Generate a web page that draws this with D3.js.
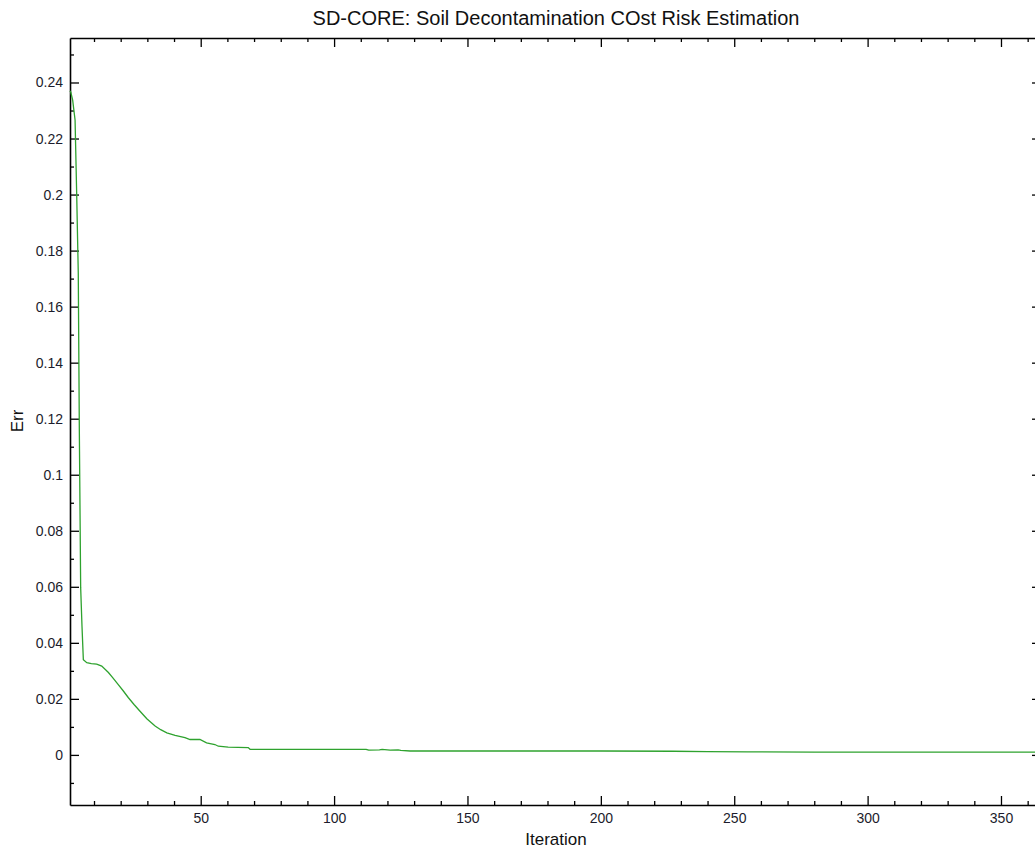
<!DOCTYPE html>
<html>
<head>
<meta charset="utf-8">
<script src="https://cdn.jsdelivr.net/npm/d3@7"></script>
<style>
    body { margin: 0; background: #fff; overflow: hidden; }
    svg { display: block; font-family: "Liberation Sans", Arial, sans-serif; }
</style>
</head>
<body>
<svg id="chart"></svg>
<script>
// values (iteration, error)
const iterations = [1, 1.3, 2, 2.9, 3.5, 4.1, 4.5, 5, 5.5, 6, 7.3, 9, 11, 12.9, 15.4, 17, 19.1, 21, 22.9, 25, 27.5,
    29.8, 31.5, 32.9, 35, 37.3, 40.4, 44.1, 46, 49.7, 52.2, 55.3, 56.6, 60.3, 64, 67.8, 68.5, 80, 95, 112,
    113, 117, 118, 121, 124, 125, 128.5, 150, 180, 200, 227, 240, 255, 280, 310, 340, 365];
const errors = [0.2370, 0.2365, 0.2337, 0.2266, 0.2005, 0.1720, 0.1157, 0.0597, 0.0458, 0.0340, 0.0329, 0.0326, 0.0324, 0.0317, 0.0294, 0.0276, 0.0251, 0.0228, 0.0204, 0.0180, 0.0153,
    0.0129, 0.0115, 0.0103, 0.0090, 0.0079, 0.0070, 0.0062, 0.0055, 0.0055, 0.0043, 0.0037, 0.0031, 0.0028, 0.0027, 0.0026, 0.0020, 0.0020, 0.0020, 0.0020,
    0.0017, 0.0018, 0.0020, 0.0017, 0.0018, 0.0016, 0.0014, 0.0014, 0.0014, 0.0014, 0.0013, 0.0012, 0.0011, 0.0010, 0.0010, 0.0010, 0.0010];
const xMajorTicks = [50, 100, 150, 200, 250, 300, 350];
const yMajorTicks = [0, 0.02, 0.04, 0.06, 0.08, 0.1, 0.12, 0.14, 0.16, 0.18, 0.2, 0.22, 0.24];

const title = "SD-CORE: Soil Decontamination COst Risk Estimation";
const xLabel = "Iteration";
const yLabel = "Err";

const width = 1035, height = 849;
const margin = { top: 38, right: -6, bottom: 44, left: 70 };
const innerW = width - margin.left - margin.right;
const innerH = height - margin.top - margin.bottom;

const data = iterations.map((it, i) => ({ it: it, err: errors[i] }));

const svg = d3.select("#chart").attr("width", width).attr("height", height);
const g = svg.append("g").attr("transform", `translate(${margin.left},${margin.top})`);

const x = d3.scaleLinear().domain([1, 365]).range([0, innerW]);
const ext = d3.extent(errors);
const pad = (ext[1] - ext[0]) * 0.08;
const y = d3.scaleLinear().domain([ext[0] - pad, ext[1] + pad]).range([innerH, 0]);

const xMinor = d3.range(10, 370, 10).filter(d => d % 50 !== 0);
const yMinor = d3.range(-0.01, 0.26, 0.02).map(d => +d.toFixed(2));

function styleAxis(sel) {
    sel.selectAll(".domain").attr("stroke", "#000").attr("stroke-width", 1.6);
    sel.selectAll(".tick line").attr("stroke", "#000").attr("stroke-width", 1.3);
    sel.selectAll(".tick text").attr("fill", "#1c1c2c").style("font-size", "14px");
}

// bottom
g.append("g").attr("transform", `translate(0,${innerH})`)
    .call(d3.axisBottom(x).tickValues(xMajorTicks).tickSizeInner(-9).tickSizeOuter(0).tickPadding(8))
    .call(styleAxis);
g.append("g").attr("transform", `translate(0,${innerH})`)
    .call(d3.axisBottom(x).tickValues(xMinor).tickSize(-4).tickFormat(""))
    .call(styleAxis).select(".domain").remove();
// top
g.append("g")
    .call(d3.axisTop(x).tickValues(xMajorTicks).tickSizeInner(-9).tickSizeOuter(0).tickFormat(""))
    .call(styleAxis);
g.append("g")
    .call(d3.axisTop(x).tickValues(xMinor).tickSize(-4).tickFormat(""))
    .call(styleAxis).select(".domain").remove();
// left
g.append("g")
    .call(d3.axisLeft(y).tickValues(yMajorTicks).tickSizeInner(-9).tickSizeOuter(0).tickPadding(7)
        .tickFormat(d => d3.format("")(+d.toFixed(2))))
    .call(styleAxis);
g.append("g")
    .call(d3.axisLeft(y).tickValues(yMinor).tickSize(-4).tickFormat(""))
    .call(styleAxis).select(".domain").remove();
// right
g.append("g").attr("transform", `translate(${innerW},0)`)
    .call(d3.axisRight(y).tickValues(yMajorTicks).tickSizeInner(-9).tickSizeOuter(0).tickFormat(""))
    .call(styleAxis);

// line
const line = d3.line().x(d => x(d.it)).y(d => y(d.err));
g.append("path")
    .datum(data)
    .attr("fill", "none")
    .attr("stroke", "#2ea22e")
    .attr("stroke-width", 1.3)
    .attr("d", line);

// texts
svg.append("text")
    .attr("x", 556).attr("y", 25)
    .attr("text-anchor", "middle")
    .style("font-size", "20px")
    .attr("fill", "#111")
    .text(title);

svg.append("text")
    .attr("x", 556).attr("y", 845)
    .attr("text-anchor", "middle")
    .style("font-size", "17px")
    .attr("fill", "#111")
    .text(xLabel);

svg.append("text")
    .attr("transform", "translate(23,421) rotate(-90)")
    .attr("text-anchor", "middle")
    .style("font-size", "17px")
    .attr("fill", "#111")
    .text(yLabel);
</script>
</body>
</html>
